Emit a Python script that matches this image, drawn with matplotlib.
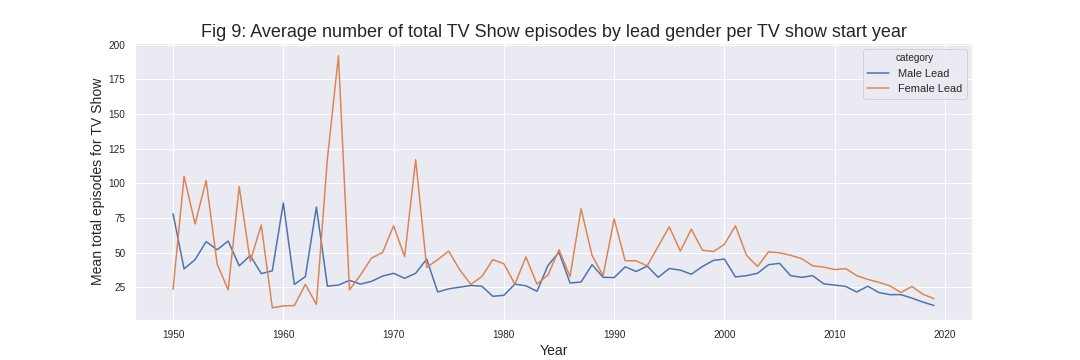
import matplotlib

matplotlib.use("Agg")
import matplotlib.pyplot as plt
import numpy as np
import pandas as pd
import seaborn as sns

YEARS = list(range(1950, 2020))

MALE_LEAD = [
    78, 38.2, 44.9, 57.9, 52, 58.3, 40.4, 47.8, 34.8, 36.8,
    85.8, 27, 32.6, 82.8, 25.7, 26.5, 29.9, 27.2, 29.2, 33,
    35, 31.4, 35, 45.3, 21.5, 23.8, 25, 26.2, 25.7, 18.4,
    19.1, 27.2, 26, 22, 40.7, 50.2, 28, 28.7, 41.2, 32.1,
    31.9, 39.7, 36.3, 40.2, 32.1, 38.5, 37.3, 34.3, 39.9, 44.3,
    45.3, 32.4, 33.3, 35, 41.2, 42.2, 33.3, 32.1, 33.3, 27.4,
    26.5, 25.5, 21.5, 25.7, 21.1, 19.6, 19.6, 17.1, 14.2, 11.8,
]

FEMALE_LEAD = [
    23.3, 105, 70.6, 102, 41.7, 23, 97.6, 43.6, 69.9, 10.1,
    11.5, 11.7, 27, 12.5, 118, 192, 23, 33.8, 46, 50,
    69.3, 47, 117, 39.2, 44.9, 51, 37.5, 27, 32.6, 44.9,
    41.9, 27.2, 46.8, 27.2, 33.8, 52, 32.6, 81.6, 47.8, 33.3,
    74.3, 44.1, 44, 40.4, 54.6, 68.6, 51, 66.9, 51.7, 50.7,
    55.9, 69.3, 48, 39.9, 50.5, 49.8, 48, 45.6, 40.4, 39.5,
    37.7, 38.4, 33.3, 30.6, 28.5, 26, 21.1, 25.5, 19.9, 16.7,
]

CATEGORIES = ["Male Lead", "Female Lead"]

sns.set_theme(style="darkgrid")
plt.rcParams["font.family"] = ["Liberation Sans", "DejaVu Sans"]

df = pd.concat([
    pd.DataFrame({"start_year": YEARS, "episodes": MALE_LEAD, "category": CATEGORIES[0]}),
    pd.DataFrame({"start_year": YEARS, "episodes": FEMALE_LEAD, "category": CATEGORIES[1]}),
])

fig, ax = plt.subplots(figsize=(15, 5), dpi=72)
sns.lineplot(data=df, x="start_year", y="episodes", hue="category", ax=ax)
ax.set_title("Fig 9: Average number of total TV Show episodes by lead gender per TV show start year",
             fontsize=18)
ax.set_xlabel("Year", fontsize=14)
ax.set_ylabel("Mean total episodes for TV Show", fontsize=14)
ax.tick_params(labelsize=10)
ax.legend(title="category", fontsize=11, title_fontsize=10, loc="upper right")

fig.savefig("out.png", dpi=72)
